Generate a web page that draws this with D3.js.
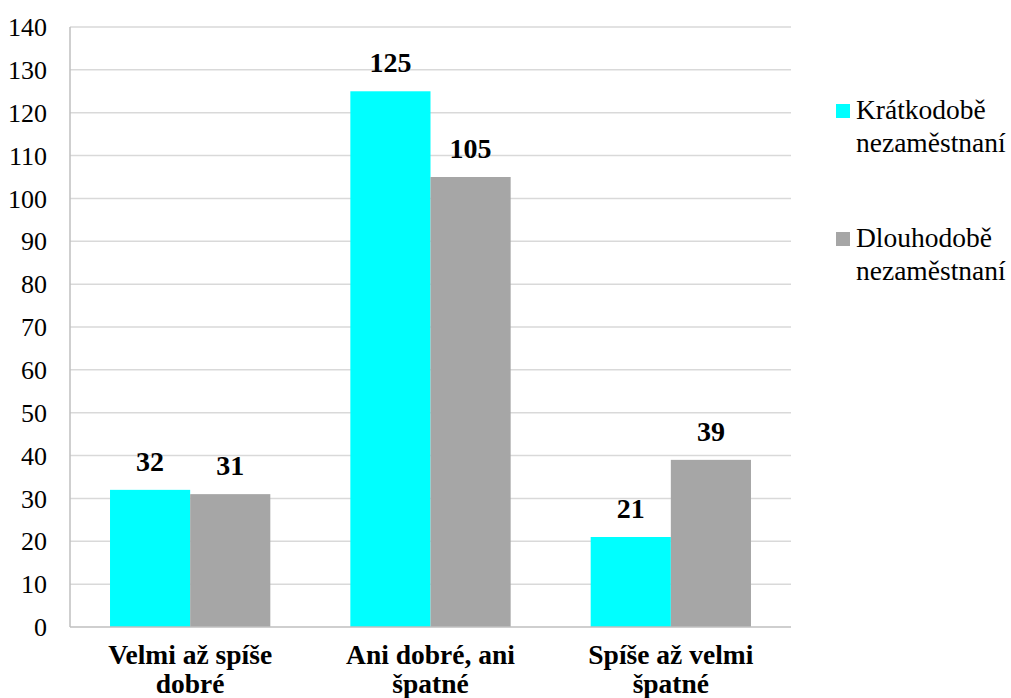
<!DOCTYPE html>
<html>
<head>
<meta charset="utf-8">
<script src="https://cdn.jsdelivr.net/npm/d3@7"></script>
</head>
<body style="margin:0">
<svg id="chart" width="1011" height="698"></svg>
<script>
const categories = [["Velmi až spíše", "dobré"], ["Ani dobré, ani", "špatné"], ["Spíše až velmi", "špatné"]];
const seriesNames = [["Krátkodobě", "nezaměstnaní"], ["Dlouhodobě", "nezaměstnaní"]];
const shortTerm = [32, 125, 21];
const longTerm = [31, 105, 39];
const yTicks = [0, 10, 20, 30, 40, 50, 60, 70, 80, 90, 100, 110, 120, 130, 140];
const colors = ["#00ffff", "#a6a6a6"];
const FONT = "'Liberation Serif', monospace";

const svg = d3.select("#chart");
const plot = { left: 70, right: 791, top: 27, bottom: 627 };

const x = d3.scaleBand().domain(d3.range(categories.length)).range([plot.left, plot.right]).paddingInner(0.333).paddingOuter(0.1665);
const xs = d3.scaleBand().domain([0, 1]).range([0, x.bandwidth()]);
const y = d3.scaleLinear().domain([0, 140]).range([plot.bottom, plot.top]);

// gridlines
svg.append("g").selectAll("line").data(yTicks.filter(d => d > 0)).join("line")
  .attr("x1", plot.left).attr("x2", plot.right)
  .attr("y1", d => y(d)).attr("y2", d => y(d))
  .attr("stroke", "#d9d9d9").attr("stroke-width", 1.5);

// y tick labels
svg.append("g").selectAll("text").data(yTicks).join("text")
  .style("font-family", FONT, "important")
  .attr("x", 47).attr("y", d => y(d)).attr("dy", "0.35em")
  .attr("text-anchor", "end").style("font-size", "26px").attr("fill", "#000")
  .text(d => d);

// bars and value labels
const series = [shortTerm, longTerm];
series.forEach((vals, si) => {
  const g = svg.append("g");
  g.selectAll("rect").data(vals).join("rect")
    .attr("x", (d, i) => x(i) + xs(si)).attr("width", xs.bandwidth())
    .attr("y", d => y(d)).attr("height", d => y(0) - y(d))
    .attr("fill", colors[si]);
  g.selectAll("text").data(vals).join("text")
    .style("font-family", FONT, "important")
    .attr("x", (d, i) => x(i) + xs(si) + xs.bandwidth() / 2)
    .attr("y", d => y(d) - 19)
    .attr("text-anchor", "middle").style("font-size", "28px").style("font-weight", "bold")
    .text(d => d);
});

// axis lines
svg.append("line").attr("x1", plot.left).attr("x2", plot.left).attr("y1", plot.top).attr("y2", plot.bottom)
  .attr("stroke", "#bfbfbf").attr("stroke-width", 1.5);
svg.append("line").attr("x1", plot.left).attr("x2", plot.right).attr("y1", plot.bottom).attr("y2", plot.bottom)
  .attr("stroke", "#bfbfbf").attr("stroke-width", 1.5);

// category labels
const cat = svg.append("g").selectAll("text").data(categories).join("text")
  .style("font-family", FONT, "important")
  .attr("x", (d, i) => x(i) + x.bandwidth() / 2)
  .attr("y", 664)
  .attr("text-anchor", "middle").style("font-size", "27.5px").style("font-weight", "bold");
cat.selectAll("tspan").data(d => d).join("tspan")
  .attr("x", function () { return d3.select(this.parentNode).attr("x"); })
  .attr("dy", (d, i) => i === 0 ? 0 : 29)
  .text(d => d);

// legend
const legendY = [104, 232];
seriesNames.forEach((name, si) => {
  const g = svg.append("g");
  g.append("rect").attr("x", 836).attr("y", legendY[si]).attr("width", 14).attr("height", 14).attr("fill", colors[si]);
  g.append("text").style("font-family", FONT, "important")
    .attr("x", 856).attr("y", legendY[si] + 15).style("font-size", "27.5px")
    .selectAll("tspan").data(name).join("tspan")
    .attr("x", 856).attr("dy", (d, i) => i === 0 ? 0 : 33).text(d => d);
});
</script>
</body>
</html>
